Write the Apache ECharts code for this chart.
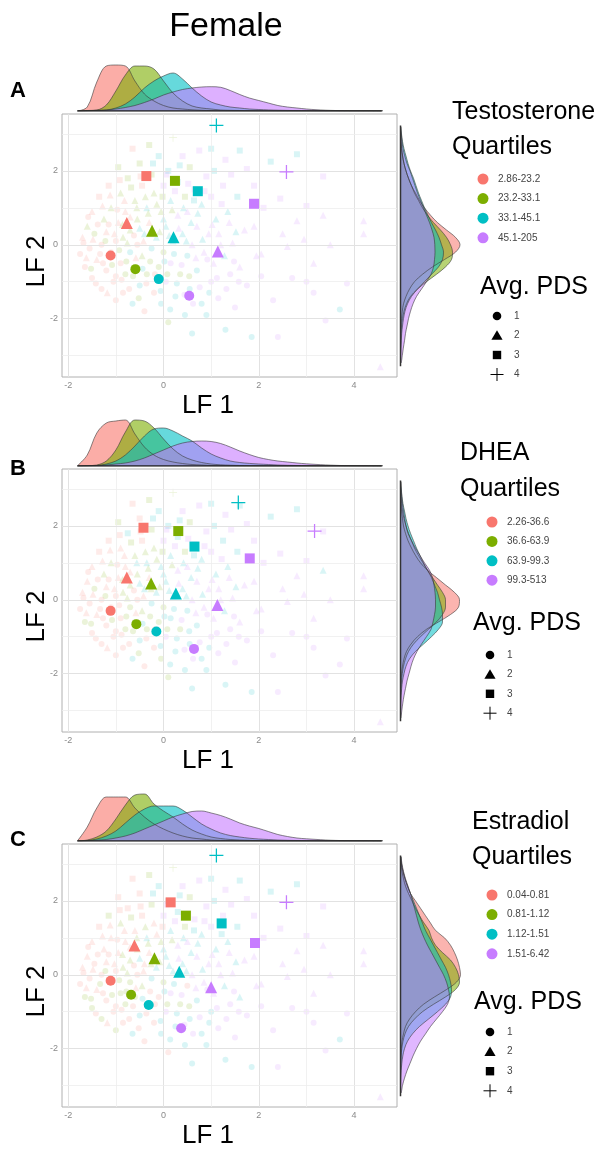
<!DOCTYPE html>
<html>
<head>
<meta charset="utf-8">
<title>Female – LF1 / LF2 by hormone quartile</title>
<script src="https://cdn.jsdelivr.net/npm/echarts@6/dist/echarts.min.js"></script>
<style>
  html, body { margin: 0; padding: 0; background: #ffffff; }
  #chart { width: 613px; height: 1151px; }
</style>
</head>
<body>
<div id="chart"></div>
<script>
// ---------------------------------------------------------------------------
// Data
// ---------------------------------------------------------------------------
const quartileColors = ['#F8766D', '#7CAE00', '#00BFC4', '#C77CFF'];
const panelLetters = ['A', 'B', 'C'];
const hormoneNames = ['Testosterone', 'DHEA', 'Estradiol'];
const quartileLabels = [
  ['2.86-23.2', '23.2-33.1', '33.1-45.1', '45.1-205'],
  ['2.26-36.6', '36.6-63.9', '63.9-99.3', '99.3-513'],
  ['0.04-0.81', '0.81-1.12', '1.12-1.51', '1.51-6.42']
];
const pdsLevels = ['1', '2', '3', '4'];

const lf1Major = [-2, 0, 2, 4];
const lf1Minor = [-1, 1, 3];
const lf2Major = [-2, 0, 2];
const lf2Minor = [-3, -1, 1, 3];
const lf1Extent = [-2.13, 4.9];
const lf2Extent = [-3.58, 3.54];
const lf1Range = [-1.81, 4.58];   // observed LF1 scores
const lf2Range = [-3.29, 3.23];   // observed LF2 scores

// evaluation points of the marginal densities
const lf1Grid = [-1.8, -1.6, -1.4, -1.2, -1.0, -0.8, -0.6, -0.4, -0.2, 0, 0.2, 0.4, 0.6, 0.8, 1.0, 1.2,
  1.4, 1.6, 1.8, 2.0, 2.2, 2.4, 2.6, 2.8, 3.0, 3.2, 3.4, 3.6, 3.8, 4.0, 4.2, 4.4, 4.6];
const lf2Grid = [-3.2, -3.0, -2.8, -2.6, -2.4, -2.2, -2.0, -1.8, -1.6, -1.4, -1.2, -1.0, -0.8, -0.6, -0.4, -0.2,
  0, 0.2, 0.4, 0.6, 0.8, 1.0, 1.2, 1.4, 1.6, 1.8, 2.0, 2.2, 2.4, 2.6, 2.8, 3.0, 3.2];

// LF1 densities per quartile (Q1..Q4), one set per hormone
const lf1DensTestosterone = [
  [0, 4, 29, 45, 46, 45, 30, 17, 10, 5.5, 3, 2, 1.2, 0.7, 0.4, 0.2, 0.1, 0, 0, 0, 0, 0, 0, 0, 0, 0, 0, 0, 0, 0, 0, 0, 0],
  [0, 0.5, 1, 6, 20, 36, 45, 45, 42, 30, 18, 10, 5, 3, 2, 1, 0.7, 0.5, 0.3, 0.2, 0.1, 0, 0, 0, 0, 0, 0, 0, 0, 0, 0, 0, 0],
  [0, 0.3, 0.6, 1, 3, 7, 14, 23, 30, 35, 38, 32, 23, 15, 9, 6, 4, 3, 2, 1.5, 1.1, 0.8, 0.6, 0.4, 0.3, 0.2, 0.1, 0, 0, 0, 0, 0, 0],
  [0, 0.3, 0.6, 1, 2, 3.5, 5.5, 8.5, 12, 16, 19, 21.5, 23, 24, 24.3, 23.7, 20.5, 16.5, 13, 10.5, 8, 5.5, 4, 3, 2, 1.3, 0.8, 0.5, 0.3, 0.2, 0.15, 0.1, 0]
];
const lf1DensDHEA = [
  [0.5, 11, 33, 43, 45, 46, 32, 19, 11, 6.5, 4, 2.5, 1.5, 1, 0.5, 0.3, 0.2, 0, 0, 0, 0, 0, 0, 0, 0, 0, 0, 0, 0, 0, 0, 0, 0],
  [0, 0.3, 1, 5, 16, 34, 46, 45, 38, 27, 17, 10, 6, 3.5, 2, 1.2, 0.8, 0.5, 0.3, 0.2, 0.1, 0, 0, 0, 0, 0, 0, 0, 0, 0, 0, 0, 0],
  [0, 0.2, 0.5, 2, 5, 11, 20, 30, 37, 38, 35, 30, 25, 18, 12, 8, 5, 3.5, 2.6, 2, 1.5, 1, 0.7, 0.5, 0.3, 0.2, 0.1, 0, 0, 0, 0, 0, 0],
  [0, 0.2, 0.5, 1, 2, 3, 5, 8, 12, 16, 20, 23, 24.5, 25, 24.5, 22.5, 19, 15, 11.5, 8.5, 6.5, 5, 4, 3, 2.2, 1.6, 1.1, 0.7, 0.4, 0.3, 0.2, 0.1, 0]
];
const lf1DensEstradiol = [
  [0.5, 14, 33, 44, 44, 44, 33, 24, 17, 12, 8, 5, 3, 2, 1, 0.6, 0.4, 0.2, 0.1, 0, 0, 0, 0, 0, 0, 0, 0, 0, 0, 0, 0, 0, 0],
  [0, 1, 4, 10, 22, 36, 46, 47, 37, 30, 24, 17, 11, 7, 4, 2.5, 1.5, 1, 0.7, 0.4, 0.2, 0.1, 0, 0, 0, 0, 0, 0, 0, 0, 0, 0, 0],
  [0, 0.5, 2, 5, 10, 18, 26, 32, 35, 35, 35, 31, 24, 17, 12, 8, 5.5, 4, 2.8, 2, 1.5, 1, 0.7, 0.5, 0.3, 0.2, 0.1, 0, 0, 0, 0, 0, 0],
  [0, 0.3, 0.8, 1.5, 3, 5, 8, 12, 16, 20, 24, 27, 29.5, 30, 28, 25.5, 22, 18, 15, 12.5, 9.5, 6.5, 4.5, 3, 2.2, 1.6, 1, 0.6, 0.4, 0.3, 0.2, 0.1, 0]
];

// LF2 densities per quartile (Q1..Q4), evaluated on lf2Grid (bottom to top)
const lf2DensTestosterone = [
  [0, 0, 0, 0.1, 0.3, 0.5, 1, 1.8, 3, 5.5, 9, 14, 22, 32, 44, 55, 59.5, 55, 46, 37, 30, 24, 19, 15, 11, 8, 5.5, 3.5, 2, 1, 0.5, 0.2, 0],
  [0, 0, 0, 0.2, 0.5, 1, 2, 3.5, 6, 10, 17, 26, 36, 45, 51, 52, 50, 46, 40, 33, 27, 22, 18, 14, 11, 8, 5.5, 3.5, 2.2, 1.2, 0.5, 0.2, 0],
  [0, 0.2, 0.5, 0.8, 1.2, 2, 3, 4.5, 7, 11, 17, 24, 31, 38, 42, 43, 41, 38.5, 35, 31, 27.5, 24, 21, 18, 15.5, 13, 10, 7.5, 5.5, 3.5, 2, 1, 0.3],
  [0.8, 1.8, 2.8, 4, 5, 6.5, 8, 10, 12.5, 16, 21, 26, 30.5, 33, 34, 34.5, 34.3, 33.5, 31.5, 29, 26, 23, 20, 17, 14.5, 12, 9.5, 6.5, 4.3, 2.5, 1.5, 0.8, 0.2]
];
const lf2DensDHEA = [
  [0, 0, 0, 0, 0.2, 0.5, 1, 2, 3.5, 6, 10.5, 17, 26, 38, 50, 58, 59, 54, 45, 36, 27, 20, 15, 11, 7.5, 5, 3, 2, 1, 0.6, 0.3, 0.1, 0],
  [0, 0, 0, 0.2, 0.5, 1, 1.8, 3, 5, 8, 13, 20, 28, 36, 42, 45, 45, 42, 37, 32, 27, 22.5, 18, 14, 11, 8, 5.5, 3.5, 2, 1.2, 0.5, 0.2, 0],
  [0, 0.1, 0.3, 0.6, 1.2, 2, 3.5, 5.5, 9, 15, 23, 31, 38, 42, 42, 41, 39, 37, 34, 31, 27, 23, 19.5, 16, 13, 10, 7.5, 5.5, 4, 2.5, 1.5, 0.8, 0.3],
  [0.5, 1.3, 2.3, 3.5, 5, 6.5, 8.5, 10.5, 13, 16.5, 21, 26, 30.5, 32.5, 34, 35, 35, 34.5, 33.5, 32, 29, 24, 19.5, 15, 11, 7.5, 5.5, 4.2, 3, 2, 1.2, 0.7, 0.3]
];
const lf2DensEstradiol = [
  [0, 0, 0, 0, 0.2, 0.4, 0.8, 1.5, 3, 5, 9, 15, 23, 34, 46, 56, 60, 59, 57, 54, 50, 44, 35, 30, 25, 20, 15, 10, 7, 4.5, 2.5, 1, 0.2],
  [0, 0, 0, 0, 0.3, 0.6, 1.3, 2.5, 4.5, 8, 14, 22, 33, 45, 55, 59, 58, 55, 50, 42, 35, 31, 28.5, 23.5, 19, 15, 11.5, 8, 5, 3, 1.5, 0.6, 0.1],
  [0, 0.1, 0.3, 0.7, 1.3, 2.3, 4, 7, 12, 19, 28, 37, 45, 50, 51, 50, 48, 45, 41, 37, 33, 29, 25, 22, 19, 16, 13, 10, 7, 4.5, 2.5, 1, 0.3],
  [0.8, 2, 4, 6.5, 9.5, 12.5, 16, 20, 25, 30, 36, 42, 47, 49, 48, 46, 43, 39, 35, 31, 27, 23.5, 20.5, 18, 16, 14, 12, 10, 7.5, 5, 3, 1.5, 0.5]
];

// individual participants: [LF1, LF2, avg. PDS]
const participants = [
  [-1.75, -0.25, 1], [-1.7, 0.2, 2], [-1.65, -0.6, 1], [-1.6, 0.5, 2], [-1.55, -0.1, 1], [-1.5, 0.9, 2],
  [-1.5, -0.9, 1], [-1.45, 0.3, 1], [-1.4, -0.4, 2], [-1.35, 1.3, 3], [-1.3, 0.0, 1], [-1.3, -1.2, 1],
  [-1.25, 0.7, 2], [-1.2, -0.7, 1], [-1.2, 0.35, 2], [-1.15, 1.6, 3], [-1.1, -0.2, 1], [-1.1, 1.0, 2],
  [-1.05, -1.0, 1], [-1.0, 0.1, 1], [-1.0, -1.5, 1], [-0.95, 0.6, 2], [-0.95, 2.1, 3], [-0.9, -0.5, 1],
  [-0.9, 1.4, 2],
  [-0.85, 0.2, 2], [-0.85, -1.3, 1], [-0.8, -0.8, 1], [-0.8, 0.9, 2], [-0.75, 1.8, 3], [-0.7, -0.2, 1],
  [-0.7, 0.4, 2], [-0.65, 2.6, 3], [-0.65, -1.6, 1], [-0.6, 1.2, 2], [-0.6, -0.6, 1], [-0.55, 0.0, 1],
  [-0.55, 0.7, 2], [-0.5, -1.1, 1], [-0.5, 2.2, 3], [-0.45, 1.6, 3], [-0.45, -0.3, 2], [-0.4, 0.3, 2],
  [-0.4, -1.8, 1], [-0.35, 1.0, 2], [-0.35, -0.8, 1], [-0.3, 2.7, 3], [-0.3, 0.6, 2], [-0.25, -0.1, 1],
  [-0.25, 1.9, 3], [-0.2, -1.3, 1], [-0.2, 1.4, 2],
  [-0.15, 0.2, 2], [-0.1, -0.6, 1], [-0.1, 2.4, 3], [-0.05, 0.9, 2], [-0.05, -1.6, 1], [0.0, 1.6, 3],
  [0.0, -0.2, 1], [0.05, 0.5, 2], [0.05, -1.0, 1], [0.1, 2.0, 3], [0.1, -2.1, 1], [0.15, 1.2, 2],
  [0.15, -0.5, 1], [0.2, 0.1, 2], [0.2, 2.9, 4], [0.25, -1.4, 1], [0.3, 0.8, 2], [0.3, 1.7, 3],
  [0.35, -0.8, 1], [0.4, 0.3, 2], [0.4, 2.4, 3], [0.45, -1.9, 1], [0.45, 1.3, 3], [0.5, -0.3, 1],
  [0.5, 0.9, 2], [0.55, -1.2, 1], [0.55, 2.1, 3], [0.6, 0.0, 2], [0.6, -2.4, 1],
  [0.65, 1.5, 3], [0.7, -0.7, 1], [0.7, 0.5, 2], [0.75, 2.55, 3], [0.8, -1.6, 1], [0.8, 1.1, 2],
  [0.85, -0.2, 2], [0.9, 1.85, 3], [0.9, -1.9, 1], [0.95, 0.3, 2], [1.0, -1.0, 1], [1.0, 1.3, 3],
  [1.0, 2.6, 3], [1.05, -0.5, 2], [1.1, 0.7, 2], [1.15, -1.45, 1], [1.2, 0.0, 2], [1.25, 1.6, 3],
  [1.3, -2.3, 1], [1.3, 2.3, 3], [1.35, 0.9, 2], [1.4, -0.8, 1], [1.45, 0.05, 2], [1.5, -1.7, 1],
  [1.55, 1.3, 3], [1.6, -0.6, 2], [1.6, 2.55, 3],
  [1.7, 0.4, 2], [1.75, 2.05, 3], [1.75, -1.1, 1], [1.85, -2.5, 1], [1.9, 0.5, 2], [1.9, 1.6, 3],
  [1.95, -0.3, 2], [2.05, -0.85, 1], [2.05, -0.25, 2], [2.1, 1.0, 3], [2.25, 2.25, 3], [2.3, -1.5, 1],
  [2.4, -2.5, 1], [2.45, 1.25, 3], [2.5, 0.3, 2], [2.6, -0.05, 2], [2.7, -0.9, 1], [2.8, 2.45, 3],
  [2.8, 0.65, 2], [2.95, 0.15, 2], [3.0, -1.0, 1], [3.0, 1.05, 3], [3.15, -0.5, 2], [3.15, -1.3, 1],
  [3.35, 1.85, 3], [3.35, 0.8, 2], [3.4, -2.05, 1], [3.5, 0.0, 2], [3.7, -1.75, 1], [3.85, -1.05, 1],
  [4.2, 0.3, 2], [4.2, 0.65, 2], [4.55, -3.3, 2],
  // denser core of the cloud
  [-1.68, 0.05, 1], [-1.62, -0.35, 2], [-1.58, 0.75, 1], [-1.52, -0.65, 1], [-1.48, 0.15, 2], [-1.42, -1.05, 1],
  [-1.38, 0.55, 1], [-1.33, -0.25, 1], [-1.28, 1.05, 2], [-1.27, -0.5, 1], [-1.22, 0.1, 1], [-1.18, -1.3, 2],
  [-1.15, 0.55, 1], [-1.12, 1.35, 2], [-1.08, -0.55, 1], [-1.03, 0.3, 2], [-1.0, -0.85, 1], [-0.97, 0.95, 1],
  [-0.93, -0.15, 1], [-0.92, 1.75, 3],
  [-0.88, -0.95, 1], [-0.86, 0.55, 2], [-0.82, 1.2, 2], [-0.78, -0.45, 1], [-0.76, 0.05, 2], [-0.72, -1.2, 1],
  [-0.7, 0.75, 2], [-0.68, 1.55, 3], [-0.64, -0.85, 1], [-0.62, 0.25, 1], [-0.58, -0.35, 2], [-0.56, 1.0, 2],
  [-0.52, -1.45, 1], [-0.5, 0.45, 2], [-0.48, 1.85, 3], [-0.44, -0.65, 1], [-0.42, 0.1, 2], [-0.38, 1.3, 2],
  [-0.36, -1.05, 1], [-0.32, 0.85, 2], [-0.28, -0.45, 1], [-0.26, 0.3, 2], [-0.22, 2.2, 3], [-0.18, -0.8, 1],
  [-0.14, 1.1, 2],
  [-0.08, 0.35, 2], [-0.06, -1.25, 1], [-0.02, 1.3, 3], [0.0, 0.7, 2], [0.02, -0.45, 1], [0.06, 1.9, 3],
  [0.08, -0.8, 1], [0.12, 0.25, 2], [0.14, -1.75, 1], [0.18, 0.95, 2], [0.22, -0.25, 1], [0.24, 1.45, 3],
  [0.28, -1.05, 1], [0.32, 0.45, 2], [0.34, 2.15, 3], [0.38, -0.55, 1], [0.42, 1.0, 2], [0.44, -1.35, 1],
  [0.48, 0.1, 2], [0.52, 1.65, 3], [0.54, -0.85, 1], [0.58, 0.6, 2], [0.62, -1.6, 1], [0.64, 1.2, 3],
  [0.68, -0.35, 2],
  [0.72, 0.85, 2], [0.76, -1.15, 1], [0.82, 0.15, 2], [0.86, 1.45, 3], [0.92, -0.4, 1], [0.96, -1.3, 1],
  [1.02, 0.55, 2], [1.06, 2.0, 3], [1.12, -0.9, 1], [1.16, 0.3, 2], [1.22, 1.1, 3], [1.28, -0.3, 2],
  [1.32, -1.2, 1], [1.38, 0.6, 2], [1.42, 1.9, 3], [1.48, -0.45, 1], [1.52, 0.35, 2], [1.58, -1.0, 1]
];

// hormone quartile (1-4) of each participant, same order as participants
const quartileTestosterone = ('1112111211112111121111212' + '212123213221232123132213212' +
  '32323423432343234323432343243' + '434433443444343444343444343' + '444344444434444443444444444434444' +
  '11121111112111211121' + '1212211221122313121222312' + '2323342332343434343423434' + '343443434443444434');
const quartileDHEA = ('1121111211112111121111211' + '212132213221231123132213212' +
  '32332423432334234323432343243' + '434433443444343443343444343' + '444344444434444443444444434444444' +
  '11121111112111211111' + '1212211221132313121222312' + '2323342332343434343433434' + '343443434443444434');
const quartileEstradiol = ('1121112111121112111121122' + '212112213121231121132213211' +
  '31323423431343234323432143243' + '434433443434343444343444333' + '444344444434444443444444444434444' +
  '11121112112111211121' + '1212211211121313121212311' + '2313342332343434343423434' + '343443434433444434');

// group means: [LF1, LF2, quartile, avg. PDS]
const meansTestosterone = [
  [-1.11, -0.29, 1, 1], [-0.59, -0.66, 2, 1], [-0.10, -0.93, 3, 1], [0.54, -1.38, 4, 1],
  [-0.77, 0.59, 1, 2], [-0.24, 0.38, 2, 2], [0.21, 0.20, 3, 2], [1.14, -0.18, 4, 2],
  [-0.36, 1.86, 1, 3], [0.24, 1.73, 2, 3], [0.72, 1.45, 3, 3], [1.90, 1.11, 4, 3],
  [1.11, 3.23, 3, 4], [2.58, 1.97, 4, 4]
];
const meansDHEA = [
  [-1.11, -0.30, 1, 1], [-0.57, -0.66, 2, 1], [-0.15, -0.86, 3, 1], [0.64, -1.33, 4, 1],
  [-0.77, 0.60, 1, 2], [-0.26, 0.44, 2, 2], [0.26, 0.17, 3, 2], [1.13, -0.14, 4, 2],
  [-0.42, 1.95, 1, 3], [0.31, 1.86, 2, 3], [0.65, 1.44, 3, 3], [1.81, 1.12, 4, 3],
  [1.57, 2.63, 3, 4], [3.17, 1.86, 4, 4]
];
const meansEstradiol = [
  [-1.11, -0.16, 1, 1], [-0.68, -0.54, 2, 1], [-0.31, -0.82, 3, 1], [0.37, -1.45, 4, 1],
  [-0.61, 0.79, 1, 2], [-0.19, 0.45, 2, 2], [0.33, 0.08, 3, 2], [1.00, -0.34, 4, 2],
  [0.15, 1.96, 1, 3], [0.47, 1.60, 2, 3], [1.22, 1.39, 3, 3], [1.92, 0.86, 4, 3],
  [1.11, 3.23, 3, 4], [2.58, 1.96, 4, 4]
];

const panels = [
  { lf1Dens: lf1DensTestosterone, lf2Dens: lf2DensTestosterone, quart: quartileTestosterone, means: meansTestosterone },
  { lf1Dens: lf1DensDHEA, lf2Dens: lf2DensDHEA, quart: quartileDHEA, means: meansDHEA },
  { lf1Dens: lf1DensEstradiol, lf2Dens: lf2DensEstradiol, quart: quartileEstradiol, means: meansEstradiol }
];

// ---------------------------------------------------------------------------
// Layout and styles
// ---------------------------------------------------------------------------
const FONT = '"Liberation Sans", Arial, Helvetica, sans-serif';
const L = {
  left: 62, width: 335, height: 263, tops: [114, 469, 844],
  densH: 48, densGap: 3,
  sideLeft: 400.5, sideW: 70
};
const legendPos = [
  { titleX: 452, titleY: [112, 147], keyX: 483, keyY: 179, keyStep: 19.6, pdsX: 480, pdsY: 287, shapeX: 497, shapeY: 316, shapeStep: 19.5 },
  { titleX: 460, titleY: [453, 489], keyX: 492, keyY: 522, keyStep: 19.4, pdsX: 473, pdsY: 623, shapeX: 490, shapeY: 655, shapeStep: 19.4 },
  { titleX: 472, titleY: [822, 857], keyX: 492, keyY: 895, keyStep: 19.6, pdsX: 474, pdsY: 1002, shapeX: 490, shapeY: 1032, shapeStep: 19.6 }
];
const CROSS = 'path://M4.55,0H5.45V4.55H10V5.45H5.45V10H4.55V5.45H0V4.55H4.55Z';
const SYMBOLS = ['circle', 'triangle', 'rect', CROSS];
const meanSizes = [10, 12, 10, 14];
const pointSizes = [6, 7, 6, 8];
const DENS_OPACITY = 0.55;

const grids = [], xAxes = [], yAxes = [], series = [], graphics = [];

function text(x, y, str, size, extra) {
  const o = Object.assign({ align: 'left', weight: 'normal', color: '#000', rotation: 0 }, extra || {});
  return {
    type: 'text', x: x, y: y, rotation: o.rotation, silent: true, z: 100,
    style: { text: str, fontSize: size, fontFamily: FONT, fontWeight: o.weight, fill: o.color,
             align: o.align, verticalAlign: 'middle' }
  };
}

graphics.push(text(226, 27, 'Female', 34, { align: 'center' }));

panels.forEach(function (pn, p) {
  const top = L.tops[p];
  const g = p * 4;
  const yPx = v => top + (lf2Extent[1] - v) / (lf2Extent[1] - lf2Extent[0]) * L.height;

  // main scatter panel
  grids.push({ left: L.left, top: top, width: L.width, height: L.height, show: true,
               borderColor: '#b0b0b0', borderWidth: 1, backgroundColor: '#ffffff' });
  xAxes.push({
    gridIndex: g, type: 'value', min: lf1Extent[0], max: lf1Extent[1],
    axisLine: { show: false }, splitLine: { show: false },
    axisTick: { show: true, customValues: lf1Major, length: 3, lineStyle: { color: '#9a9a9a' } },
    axisLabel: { customValues: lf1Major, fontSize: 9, color: '#8a8a8a', margin: 4, fontFamily: FONT }
  });
  yAxes.push({
    gridIndex: g, type: 'value', min: lf2Extent[0], max: lf2Extent[1],
    axisLine: { show: false }, splitLine: { show: false },
    axisTick: { show: true, customValues: lf2Major, length: 3, lineStyle: { color: '#9a9a9a' } },
    axisLabel: { customValues: lf2Major, fontSize: 9, color: '#8a8a8a', margin: 4, fontFamily: FONT }
  });

  // panel grid lines
  const major = { color: '#e2e2e2', width: 1, type: 'solid' };
  const minor = { color: '#eeeeee', width: 0.8, type: 'solid' };
  series.push({
    type: 'line', xAxisIndex: g, yAxisIndex: g, data: [], silent: true, z: 1,
    markLine: {
      silent: true, symbol: 'none', animation: false, label: { show: false },
      data: [].concat(
        lf1Major.map(v => ({ xAxis: v, lineStyle: major })),
        lf1Minor.map(v => ({ xAxis: v, lineStyle: minor })),
        lf2Major.map(v => ({ yAxis: v, lineStyle: major })),
        lf2Minor.map(v => ({ yAxis: v, lineStyle: minor }))
      )
    }
  });

  // individual participants
  series.push({
    type: 'scatter', xAxisIndex: g, yAxisIndex: g, silent: true, z: 2,
    data: participants.map((pt, i) => [pt[0], pt[1], Number(pn.quart[i] || 1), pt[2]]),
    symbol: v => SYMBOLS[v[3] - 1],
    symbolSize: v => pointSizes[v[3] - 1],
    itemStyle: { color: prm => quartileColors[prm.value[2] - 1], opacity: 0.15 }
  });

  // quartile x PDS means
  series.push({
    type: 'scatter', xAxisIndex: g, yAxisIndex: g, silent: true, z: 5,
    data: pn.means,
    symbol: v => SYMBOLS[v[3] - 1],
    symbolSize: v => meanSizes[v[3] - 1],
    itemStyle: { color: prm => quartileColors[prm.value[2] - 1], opacity: 1 }
  });

  // LF1 marginal densities (top)
  grids.push({ left: L.left, top: top - L.densGap - L.densH, width: L.width, height: L.densH });
  xAxes.push({ gridIndex: g + 1, type: 'value', min: lf1Extent[0], max: lf1Extent[1], show: false });
  yAxes.push({ gridIndex: g + 1, type: 'value', min: 0, max: L.densH, show: false });
  pn.lf1Dens.forEach(function (d, q) {
    series.push({
      type: 'line', xAxisIndex: g + 1, yAxisIndex: g + 1, silent: true, z: 3,
      data: lf1Grid.map((x, i) => [x, d[i]]),
      smooth: 0.35, showSymbol: false,
      lineStyle: { color: '#3a3a3a', width: 0.7, opacity: 0.85 },
      areaStyle: { color: quartileColors[q], opacity: DENS_OPACITY + 0.05 }
    });
  });
  series.push({
    type: 'line', xAxisIndex: g + 1, yAxisIndex: g + 1, silent: true, z: 4, showSymbol: false,
    data: [[lf1Range[0], 0], [lf1Range[1], 0]],
    lineStyle: { color: '#222222', width: 1.4 }
  });

  // LF2 marginal densities (right)
  const catTop = yPx(lf2Grid[lf2Grid.length - 1]);
  const catBottom = yPx(lf2Grid[0]);
  grids.push({ left: L.sideLeft, top: catTop, width: L.sideW, height: catBottom - catTop });
  xAxes.push({ gridIndex: g + 2, type: 'value', min: 0, max: L.sideW, show: false });
  yAxes.push({ gridIndex: g + 2, type: 'category', data: lf2Grid.map(String), boundaryGap: false, show: false });
  pn.lf2Dens.forEach(function (d, q) {
    series.push({
      type: 'line', xAxisIndex: g + 2, yAxisIndex: g + 2, silent: true, z: 3,
      data: d, smooth: 0.35, showSymbol: false,
      lineStyle: { color: '#3a3a3a', width: 0.7, opacity: 0.85 },
      areaStyle: { color: quartileColors[q], opacity: DENS_OPACITY }
    });
  });
  grids.push({ left: L.sideLeft, top: top, width: L.sideW, height: L.height });
  xAxes.push({ gridIndex: g + 3, type: 'value', min: 0, max: L.sideW, show: false });
  yAxes.push({ gridIndex: g + 3, type: 'value', min: lf2Extent[0], max: lf2Extent[1], show: false });
  series.push({
    type: 'line', xAxisIndex: g + 3, yAxisIndex: g + 3, silent: true, z: 4, showSymbol: false,
    data: [[0, lf2Range[0]], [0, lf2Range[1]]],
    lineStyle: { color: '#333333', width: 1.5 }
  });

  // panel letter and axis titles
  const letterY = [91, 469, 840][p];
  graphics.push(text(18, letterY, panelLetters[p], 22, { align: 'center', weight: 'bold' }));
  graphics.push(text(208, top + L.height + 29, 'LF 1', 26, { align: 'center' }));
  graphics.push(text(37, top + L.height / 2 + 16, 'LF 2', 26, { align: 'center', rotation: Math.PI / 2 }));

  // legends
  const lg = legendPos[p];
  graphics.push(text(lg.titleX, lg.titleY[0], hormoneNames[p], 25));
  graphics.push(text(lg.titleX, lg.titleY[1], 'Quartiles', 25));
  quartileLabels[p].forEach(function (lab, q) {
    const cy = lg.keyY + q * lg.keyStep;
    graphics.push({ type: 'circle', silent: true, z: 100, shape: { cx: lg.keyX, cy: cy, r: 5.5 },
                    style: { fill: quartileColors[q] } });
    graphics.push(text(lg.keyX + 15, cy, lab, 10, { color: '#444' }));
  });
  graphics.push(text(lg.pdsX, lg.pdsY, 'Avg. PDS', 25));
  pdsLevels.forEach(function (lab, s) {
    const cx = lg.shapeX, cy = lg.shapeY + s * lg.shapeStep;
    let el;
    if (s === 0) {
      el = { type: 'circle', shape: { cx: cx, cy: cy, r: 4.3 }, style: { fill: '#000' } };
    } else if (s === 1) {
      el = { type: 'polygon', shape: { points: [[cx, cy - 5.2], [cx + 5.6, cy + 4.3], [cx - 5.6, cy + 4.3]] }, style: { fill: '#000' } };
    } else if (s === 2) {
      el = { type: 'rect', shape: { x: cx - 4.2, y: cy - 4.2, width: 8.4, height: 8.4 }, style: { fill: '#000' } };
    } else {
      el = { type: 'group', children: [
        { type: 'line', shape: { x1: cx - 6.5, y1: cy, x2: cx + 6.5, y2: cy }, style: { stroke: '#000', lineWidth: 1 } },
        { type: 'line', shape: { x1: cx, y1: cy - 6.5, x2: cx, y2: cy + 6.5 }, style: { stroke: '#000', lineWidth: 1 } }
      ] };
    }
    el.silent = true; el.z = 100;
    graphics.push(el);
    graphics.push(text(cx + 17, cy, lab, 10, { color: '#444' }));
  });
});

const chart = echarts.init(document.getElementById('chart'), null, { renderer: 'canvas' });
chart.setOption({
  animation: false,
  backgroundColor: '#ffffff',
  textStyle: { fontFamily: FONT },
  grid: grids,
  xAxis: xAxes,
  yAxis: yAxes,
  series: series,
  graphic: { elements: graphics }
});
</script>
</body>
</html>
